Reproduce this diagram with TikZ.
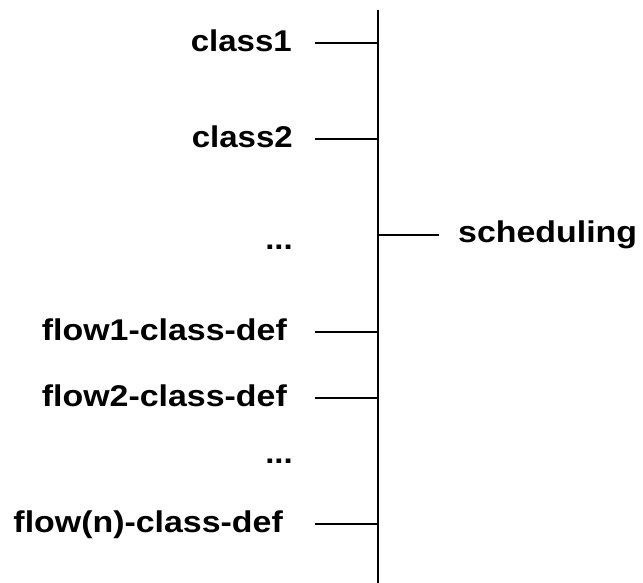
\documentclass[tikz,border=0pt]{standalone}
\usepackage{fontspec}
\setmainfont{Liberation Sans}
\begin{document}
\begin{tikzpicture}[x=1pt,y=-1pt,
  lbl/.style={inner sep=0pt,font=\fontsize{30}{32}\selectfont\bfseries},
  wire/.style={line width=1.8pt,black}]
\useasboundingbox (0,0) rectangle (643,583);
% main spine
\coordinate (top) at (378,10);
\coordinate (bot) at (378,583);
\draw[wire] (top) -- (bot);
% labels on the left
\node[lbl,anchor=base east] (c1) at (292,52) {\scalebox{1.1}[1]{class1}};
\node[lbl,anchor=base east] (c2) at (293,148) {\scalebox{1.1}[1]{class2}};
\node[lbl,anchor=base east] (d1) at (293,249) {\scalebox{1.1}[1]{...}};
\node[lbl,anchor=base east] (f1) at (287,340) {\scalebox{1.13}[1]{flow1-class-def}};
\node[lbl,anchor=base east] (f2) at (287,406) {\scalebox{1.13}[1]{flow2-class-def}};
\node[lbl,anchor=base east] (d2) at (293,463) {\scalebox{1.1}[1]{...}};
\node[lbl,anchor=base east] (fn) at (283,532) {\scalebox{1.13}[1]{flow(n)-class-def}};
% label on the right
\node[lbl,anchor=base west] (sch) at (458,243) {\scalebox{1.13}[1]{scheduling}};
% tick marks joining the labels to the spine
\coordinate (t1a) at (315,43);  \coordinate (t1b) at (378,43);
\coordinate (t2a) at (315,139); \coordinate (t2b) at (378,139);
\coordinate (t3a) at (315,332); \coordinate (t3b) at (378,332);
\coordinate (t4a) at (315,398); \coordinate (t4b) at (378,398);
\coordinate (t5a) at (315,524); \coordinate (t5b) at (378,524);
\coordinate (tsa) at (378,235); \coordinate (tsb) at (439,235);
\draw[wire] (t1a) -- (t1b);
\draw[wire] (t2a) -- (t2b);
\draw[wire] (t3a) -- (t3b);
\draw[wire] (t4a) -- (t4b);
\draw[wire] (t5a) -- (t5b);
\draw[wire] (tsa) -- (tsb);
\end{tikzpicture}
\end{document}
